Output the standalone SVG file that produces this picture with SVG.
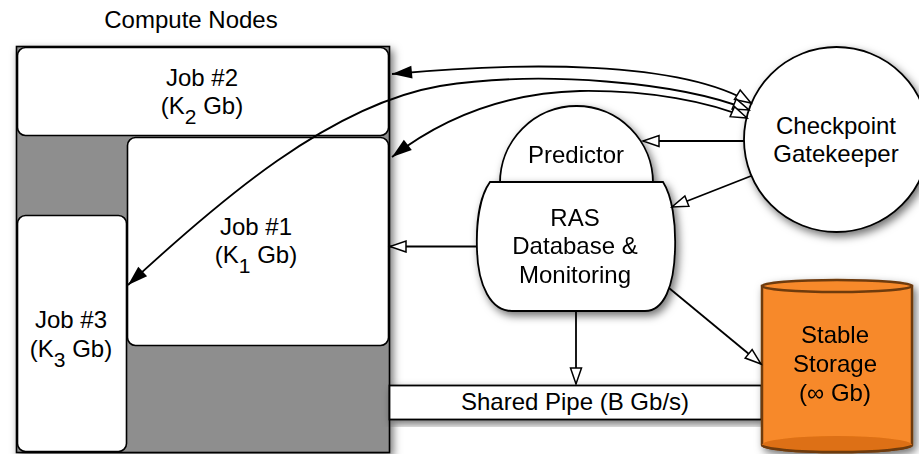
<svg xmlns="http://www.w3.org/2000/svg" width="919" height="454" viewBox="0 0 919 454">
<style>
text{font-family:"Liberation Sans",Arial,Helvetica,sans-serif;font-size:24px;fill:#000;text-anchor:middle}
.job{fill:#fff;stroke:#000;stroke-width:1.6}
.ln{fill:none;stroke:#000;stroke-width:1.8}
.sub{font-size:21px}
</style>
<defs>
<filter id="sh" x="-20%" y="-20%" width="140%" height="140%">
<feDropShadow dx="3" dy="4" stdDeviation="4" flood-color="#000" flood-opacity="0.55"/>
</filter>
<marker id="fa" markerUnits="userSpaceOnUse" markerWidth="22" markerHeight="16" refX="20" refY="7" orient="auto-start-reverse" overflow="visible">
<path d="M0,0.5 L20,7 L0,13.5 Z" fill="#000"/>
</marker>
<marker id="oa" markerUnits="userSpaceOnUse" markerWidth="20" markerHeight="14" refX="17" refY="6.5" orient="auto" overflow="visible">
<path d="M1,1 L17,6.5 L1,12 Z" fill="#fff" stroke="#000" stroke-width="1.5" stroke-linejoin="miter"/>
</marker>
</defs>
<rect width="919" height="454" fill="#fff"/>

<g id="compute-nodes">
<text x="191" y="28">Compute Nodes</text>
<rect x="16.5" y="46.5" width="373" height="406" fill="#8e8e8e" stroke="#000" stroke-width="1.6" filter="url(#sh)"/>
</g>
<g id="job2">
<rect class="job" x="17.5" y="47.5" width="371" height="88" rx="8"/>
<text x="202" y="86">Job #2</text>
<text x="202" y="114">(K<tspan class="sub" dy="10">2</tspan><tspan dy="-10"> Gb)</tspan></text>
</g>
<g id="job1">
<rect class="job" x="127.5" y="137.5" width="261" height="208" rx="8"/>
<text x="256" y="235">Job #1</text>
<text x="256" y="263">(K<tspan class="sub" dy="10">1</tspan><tspan dy="-10"> Gb)</tspan></text>
</g>
<g id="job3">
<rect class="job" x="17.5" y="215.5" width="109" height="236" rx="8"/>
<text x="71" y="328">Job #3</text>
<text x="71" y="357">(K<tspan class="sub" dy="10">3</tspan><tspan dy="-10"> Gb)</tspan></text>
</g>

<g id="shared-pipe">
<rect x="389.5" y="385.5" width="372" height="34" fill="#fff" stroke="#000" stroke-width="1.8" filter="url(#sh)"/>
<text x="575" y="410">Shared Pipe (B Gb/s)</text>
</g>

<g id="stable-storage" filter="url(#sh)">
<path d="M762,286 L762,445 A75,7 0 0 0 912,445 L912,286 Z" fill="#f7892a" stroke="#6e3a0c" stroke-width="2.5"/>
<path d="M762,445 A75,7 0 0 0 912,445 A75,9 0 0 0 762,445 Z" fill="#dd6f12" stroke="none"/>
<path d="M762,445 A75,7 0 0 0 912,445" fill="none" stroke="#6e3a0c" stroke-width="2.5"/>
<ellipse cx="837" cy="286" rx="75" ry="6" fill="#f7892a" stroke="#6e3a0c" stroke-width="2.5"/>
<text x="835" y="343">Stable</text>
<text x="835" y="372">Storage</text>
<text x="835" y="401">(∞ Gb)</text>
</g>

<g id="predictor" filter="url(#sh)">
<path d="M500,183 A76.5,77 0 0 1 653,183 Z" fill="#fff" stroke="#000" stroke-width="1.8"/>
<text x="576" y="163">Predictor</text>
</g>
<g id="ras" filter="url(#sh)">
<path d="M490,182 L663,182 C672,196 676,222 675,250 C674,286 664,311 645,311 L512,311 C491,311 478,286 477,250 C476,222 480,196 490,182 Z" fill="#fff" stroke="#000" stroke-width="1.8"/>
<text x="575" y="226">RAS</text>
<text x="575" y="254">Database &amp;</text>
<text x="575" y="283">Monitoring</text>
</g>

<g id="checkpoint-gatekeeper">
<circle cx="836.5" cy="139.5" r="92.5" fill="#fff" stroke="#000" stroke-width="1.8" filter="url(#sh)"/>
<text x="836" y="134">Checkpoint</text>
<text x="836" y="162">Gatekeeper</text>
</g>

<g id="connectors">
<path class="ln" d="M392,74 C520,62 680,60 751,103" marker-start="url(#fa)" marker-end="url(#oa)"/>
<path class="ln" d="M128,285 C220,200 330,105 440,86 C540,70 680,82 749,110" marker-start="url(#fa)" marker-end="url(#oa)"/>
<path class="ln" d="M392,157 C440,120 500,93 580,91 C650,90 710,102 747,118" marker-start="url(#fa)" marker-end="url(#oa)"/>
<path class="ln" d="M744,141 L643,141" marker-end="url(#oa)"/>
<path class="ln" d="M751,176 L672,207" marker-end="url(#oa)"/>
<path class="ln" d="M477,246.5 L390,246.5" marker-end="url(#oa)"/>
<path class="ln" d="M576,311 L576,384" marker-end="url(#oa)"/>
<path class="ln" d="M669,288 L761,364" marker-end="url(#oa)"/>
</g>
</svg>
